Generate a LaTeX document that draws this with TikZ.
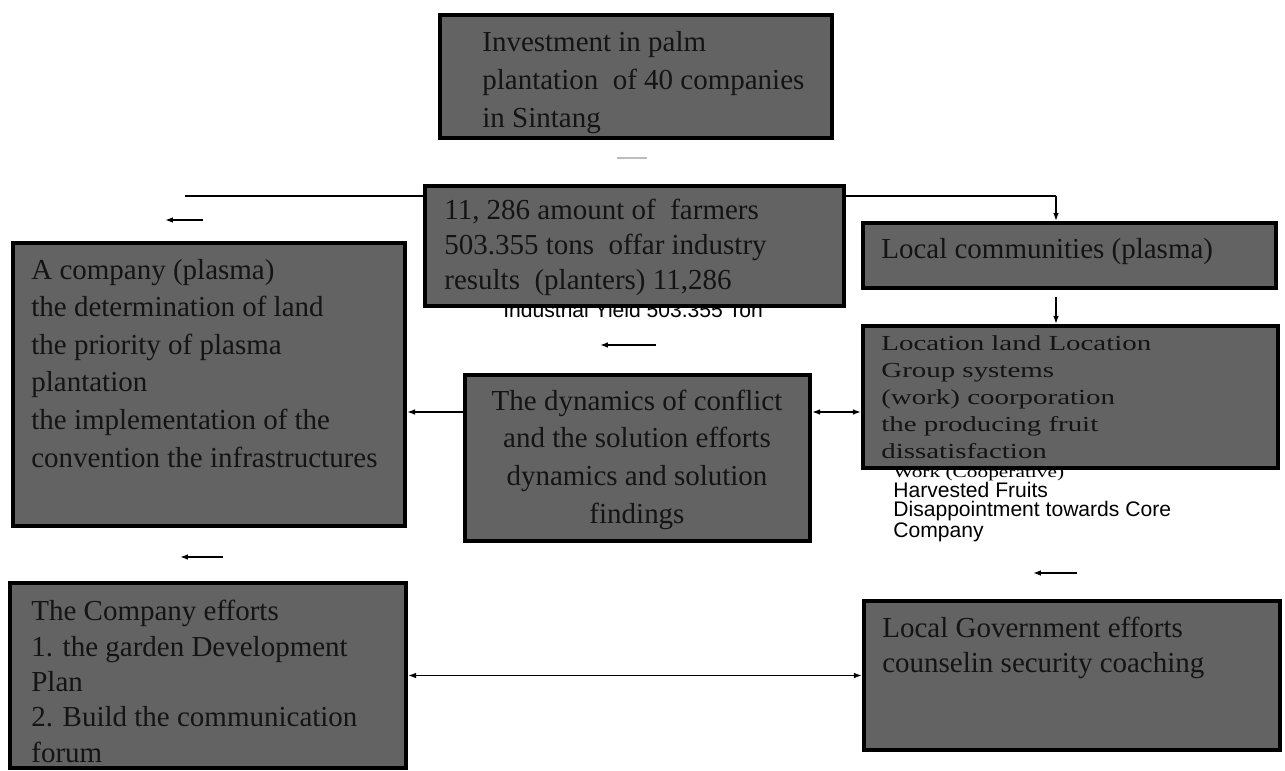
\documentclass[tikz,border=0pt]{standalone}
\usepackage{fontspec}
\setmainfont{Liberation Serif}
\newfontfamily\widefont[FakeStretch=1.35]{Liberation Serif}
\newfontfamily\ghostfont{Liberation Sans}
\usetikzlibrary{fit,arrows.meta}
\definecolor{boxgray}{RGB}{99,99,99}
\definecolor{ink}{RGB}{20,20,20}
\definecolor{faint}{RGB}{190,190,190}
\tikzset{
  box/.style={draw=black, line width=2.4pt, fill=boxgray, inner sep=0pt},
  boxtext/.style={anchor=base west, align=left, inner sep=0pt, text=ink, font=\fontsize{16.5}{21.4}\selectfont},
  ghost/.style={anchor=base west, align=left, inner sep=0pt, text=black, font=\ghostfont\fontsize{12}{10.5}\selectfont},
  link/.style={line width=0.8pt}
}

\begin{document}
\begin{tikzpicture}[x=0.02cm, y=-0.02cm, >={Latex[length=4.5pt,width=3.2pt]}]
	    \useasboundingbox (0,0) rectangle (1285,771);
	    % top (texts sit on their last line)
	    \node[box, fit={(440,15) (832,138)}] (invest) {};
	    \node[boxtext, font=\fontsize{16.5}{21.5}\selectfont] (investText) at (482,127) {Investment in palm\\plantation\ \ of 40 companies\\in Sintang};
	    \coordinate (dashL) at (617,158);
	    \coordinate (dashR) at (647,158);
	    \draw[faint, line width=1.2pt] (dashL) -- (dashR);
	    % right column
	    \node[box, fit={(863,223) (1276,288)}] (comm) {};
	    \node[boxtext] (commText) at (881,258) {Local communities (plasma)};
	    \coordinate (lineL) at (185,196);
	    \coordinate (dropX) at (1056,196);
	    \draw[line width=1.6pt] (lineL) -- (dropX);
	    \draw[link,->] (dropX) -- (dropX |- comm.north);
	    % farmers
	    \node[ghost] (yieldText) at (503,317) {Industrial Yield 503.355 Ton};
	    \node[box, fit={(425,186) (844,306)}] (farm) {};
	    \node[boxtext, font=\fontsize{16.5}{19.8}\selectfont] (farmText) at (444,289) {11, 286 amount of\ \ farmers\\503.355 tons\ \ offar industry\\results\ \ (planters) 11,286};
	    % company
	    \node[box, fit={(13,243) (405,526)}] (comp) {};
	    \node[boxtext] (compText) at (31,467) {A company (plasma)\\the determination of land\\the priority of plasma\\plantation\\the implementation of the\\convention the infrastructures};
	    % dynamics
	    \node[box, fit={(465,375) (810,541)}] (dyn) {};
	    \node[boxtext, anchor=base, align=center] (dynText) at (637,523) {The dynamics of conflict\\and the solution efforts\\dynamics and solution\\findings};
	    % location
	    \node[ghost] (workText) at (893,537) {{\widefont\fontsize{9}{10.5}\selectfont Work (Cooperative)}\\Harvested Fruits\\Disappointment towards Core\\Company};
	    \node[box, fit={(863,326) (1278,468)}] (loc) {};
	    \node[boxtext, font=\widefont\fontsize{12.2}{15.3}\selectfont] (locText) at (881,458) {Location land Location\\Group systems\\(work) coorporation\\the producing fruit\\dissatisfaction};
	    % efforts
	    \node[box, fit={(10,583) (406,768)}] (effort) {};
	    \node[boxtext, font=\fontsize{16.5}{20.1}\selectfont] (effortText) at (31,762) {The Company efforts\\1. the garden Development\\Plan\\2. Build the communication\\forum};
	    \node[box, fit={(864,601) (1280,750)}] (gov) {};
	    \node[boxtext, font=\fontsize{16.5}{19.8}\selectfont] (govText) at (882,672) {Local Government efforts\\counselin security coaching};
	    % links
	    \coordinate (rowY) at (0,412);
	    \draw[link,->] (dyn.west |- rowY) -- (comp.east |- rowY);
	    \draw[link,<->] (dyn.east |- rowY) -- (loc.west |- rowY);
	    \draw[link,->,shorten <=4pt] (dropX |- comm.south) -- (dropX |- loc.north);
	    \draw[link,<->] (effort.east) -- (gov.west);
	    % loose arrows
	    \coordinate (looseA) at (203,220);
	    \coordinate (looseAend) at (165,220);
	    \coordinate (looseB) at (656,345);
	    \coordinate (looseBend) at (600,345);
	    \coordinate (looseC) at (223,557);
	    \coordinate (looseCend) at (180,557);
	    \coordinate (looseD) at (1077,573);
	    \coordinate (looseDend) at (1033,573);
	    \draw[link,->] (looseA) -- (looseAend);
	    \draw[link,->] (looseB) -- (looseBend);
	    \draw[link,->] (looseC) -- (looseCend);
	    \draw[link,->] (looseD) -- (looseDend);
	\end{tikzpicture}
\end{document}
